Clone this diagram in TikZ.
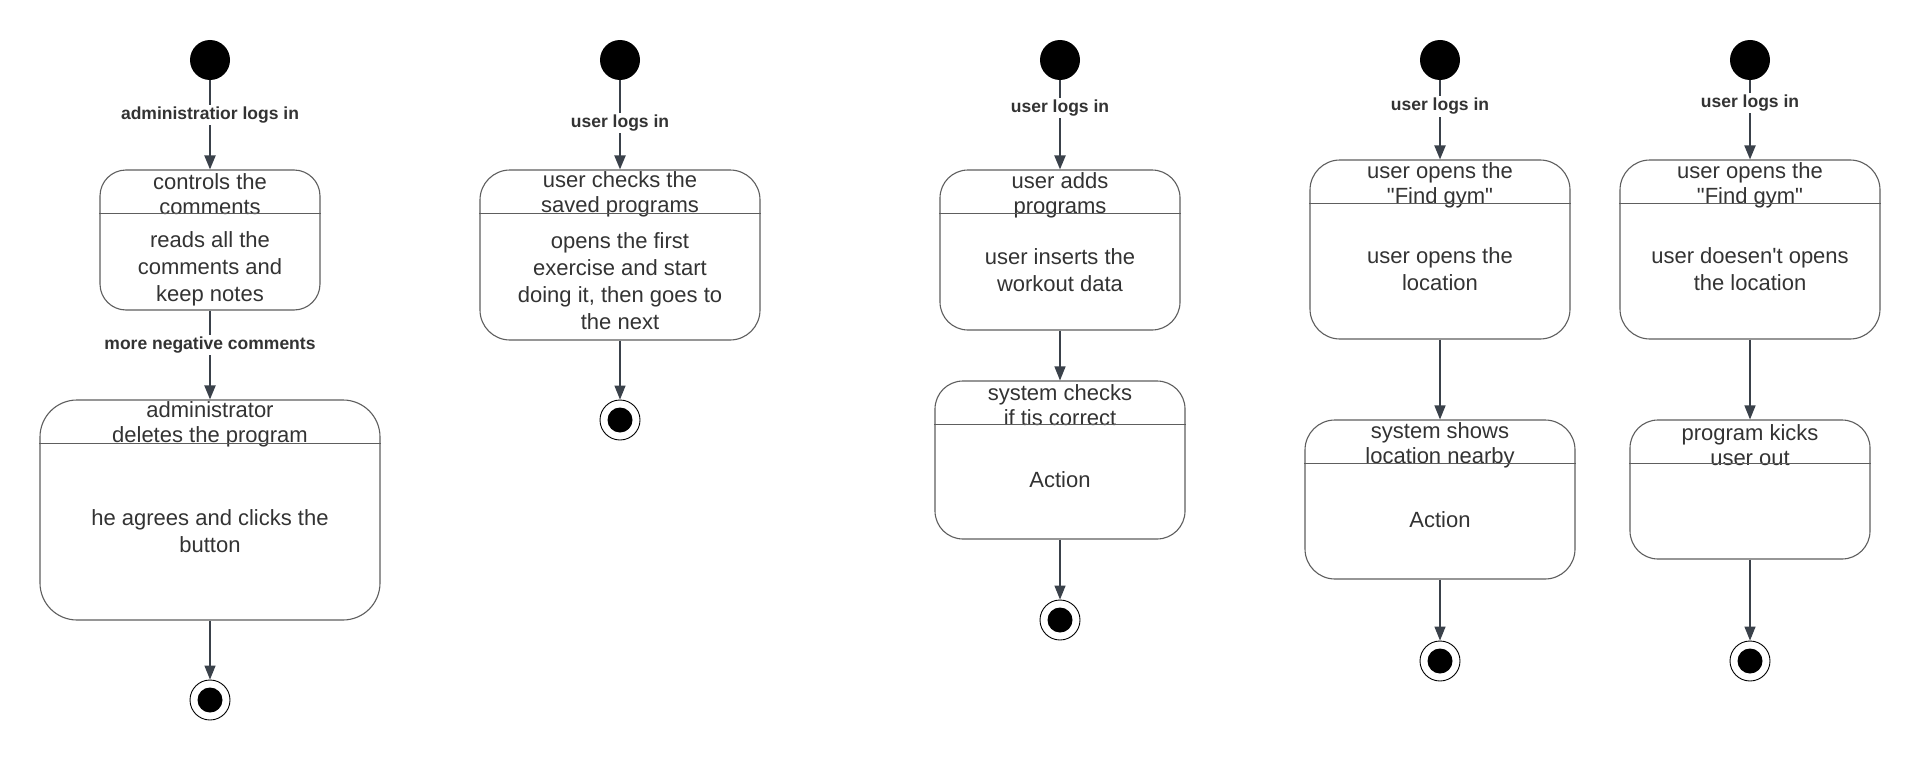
\documentclass[tikz,border=0pt]{standalone}
\usepackage{fontspec}
\setmainfont{Liberation Sans}[Ligatures=TeXOff]
\usepackage{tikz}
\usetikzlibrary{arrows.meta,calc}
\definecolor{linec}{HTML}{3A414A}
\definecolor{boxc}{HTML}{5E5E5E}
\definecolor{textc}{HTML}{333333}

\tikzset{
	initstate/.style={circle,inner sep=0pt,minimum size=40pt,fill=black},
	finalstate/.style={circle,inner sep=0pt,minimum size=40pt,draw=black,line width=0.9pt,
		path picture={\fill[black] (path picture bounding box.center) circle (12.5pt);}},
	statebox/.style={draw=boxc,line width=1.1pt,rounded corners=#1,inner sep=0pt},
	statebox/.default=26pt,
	divider/.style={draw=boxc,line width=1.1pt},
	titletext/.style={text=textc,align=center,font=\fontsize{22}{25}\selectfont},
	bodytext/.style={text=textc,align=center,font=\fontsize{22}{26.8}\selectfont},
	trlabel/.style={fill=white,inner sep=2pt,text=textc,font=\bfseries\fontsize{17.5}{20}\selectfont},
	inarrow/.style={draw=linec,line width=2pt,-{Triangle[width=11pt,length=14pt]}},
	outarrow/.style={draw=linec,line width=1.3pt,-{Triangle[width=11pt,length=14pt]}},
}

\begin{document}
\begin{tikzpicture}[x=1pt,y=-1pt]
			\fill[white] (0,0) rectangle (1920,760);
			\useasboundingbox (0,0) rectangle (1920,760);
			% start and end points
			\foreach \Nom/\X in {init1/210,init2/620,init3/1060,init4/1440,init5/1750}
				\node[initstate] (\Nom) at (\X,60) {};
			\node[finalstate] (end1) at (210,700) {};
			\node[finalstate] (end2) at (620,420) {};
			\node[finalstate] (end3) at (1060,620) {};
			\node[finalstate] (end4) at (1440,661) {};
			\node[finalstate] (end5) at (1750,661) {};
			% administrator
			\node[statebox,minimum width=220pt,minimum height=140pt] (ctrl) at (210,240) {};
			\node[titletext] at ($(ctrl.north)+(0,25)$) {controls the\\comments};
			\draw[divider] ($(ctrl.north west)+(0,44)$) -- ($(ctrl.north east)+(0,44)$);
			\node[bodytext] at ($(ctrl.center)+(0,29)$) {reads all the\\comments and\\keep notes};
			\node[statebox=37pt,minimum width=340pt,minimum height=220pt] (del) at (210,510) {};
			\node[titletext] at ($(del.north)+(0,25)$) {administrator\\deletes the program};
			\draw[divider] ($(del.north west)+(0,44)$) -- ($(del.north east)+(0,44)$);
			\node[bodytext] at ($(del.center)+(0,21)$) {he agrees and clicks the\\button};
			\draw[inarrow] (init1) -- node[trlabel,pos=0.39] {administratior logs in} (ctrl);
			\draw[inarrow] (ctrl) -- node[trlabel,pos=0.39] {more negative comments} (del);
			\draw[outarrow] (del) -- (end1);
			% saved programs
			\node[statebox=30pt,minimum width=280pt,minimum height=170pt] (saved) at (620,255) {};
			\node[titletext] at ($(saved.north)+(0,25)$) {user checks the\\saved programs};
			\draw[divider] ($(saved.north west)+(0,44)$) -- ($(saved.north east)+(0,44)$);
			\node[bodytext] at ($(saved.center)+(0,26)$) {opens the first\\exercise and start\\doing it, then goes to\\the next};
			\draw[inarrow] (init2) -- node[trlabel,pos=0.48] {user logs in} (saved);
			\draw[outarrow] (saved) -- (end2);
			% add programs
			\node[statebox=28pt,minimum width=240pt,minimum height=160pt] (adds) at (1060,250) {};
			\node[titletext] at ($(adds.north)+(0,26)$) {user adds\\programs};
			\draw[divider] ($(adds.north west)+(0,44)$) -- ($(adds.north east)+(0,44)$);
			\node[bodytext] at ($(adds.center)+(0,20)$) {user inserts the\\workout data};
			\node[statebox=28pt,minimum width=250pt,minimum height=158pt] (check) at (1060,460) {};
			\node[titletext] at ($(check.north)+(0,25)$) {system checks\\if tis correct};
			\draw[divider] ($(check.north west)+(0,44)$) -- ($(check.north east)+(0,44)$);
			\node[bodytext] at ($(check.center)+(0,20)$) {Action};
			\draw[inarrow] (init3) -- node[trlabel,pos=0.31] {user logs in} (adds);
			\draw[outarrow] (adds) -- (check);
			\draw[outarrow] (check) -- (end3);
			% find gym
			\node[statebox=30pt,minimum width=260pt,minimum height=179pt] (gymA) at (1440,249.5) {};
			\node[titletext] at ($(gymA.north)+(0,26)$) {user opens the\\"Find gym"};
			\draw[divider] ($(gymA.north west)+(0,44)$) -- ($(gymA.north east)+(0,44)$);
			\node[bodytext] at ($(gymA.center)+(0,20)$) {user opens the\\location};
			\node[statebox=30pt,minimum width=270pt,minimum height=159pt] (shows) at (1440,499.5) {};
			\node[titletext] at ($(shows.north)+(0,26)$) {system shows\\location nearby};
			\draw[divider] ($(shows.north west)+(0,44)$) -- ($(shows.north east)+(0,44)$);
			\node[bodytext] at ($(shows.center)+(0,20)$) {Action};
			\draw[inarrow] (init4) -- node[trlabel,pos=0.33] {user logs in} (gymA);
			\draw[outarrow] (gymA) -- (shows);
			\draw[outarrow] (shows) -- (end4);
			% no location
			\node[statebox=30pt,minimum width=260pt,minimum height=179pt] (gymB) at (1750,249.5) {};
			\node[titletext] at ($(gymB.north)+(0,26)$) {user opens the\\"Find gym"};
			\draw[divider] ($(gymB.north west)+(0,44)$) -- ($(gymB.north east)+(0,44)$);
			\node[bodytext] at ($(gymB.center)+(0,20)$) {user doesen't opens\\the location};
			\node[statebox=28pt,minimum width=240pt,minimum height=139pt] (kick) at (1750,489.5) {};
			\node[titletext] at ($(kick.north)+(0,26)$) {program kicks\\user out};
			\draw[divider] ($(kick.north west)+(0,44)$) -- ($(kick.north east)+(0,44)$);
			\draw[inarrow] (init5) -- node[trlabel,pos=0.29] {user logs in} (gymB);
			\draw[outarrow] (gymB) -- (kick);
			\draw[outarrow] (kick) -- (end5);
		\end{tikzpicture}
\end{document}
